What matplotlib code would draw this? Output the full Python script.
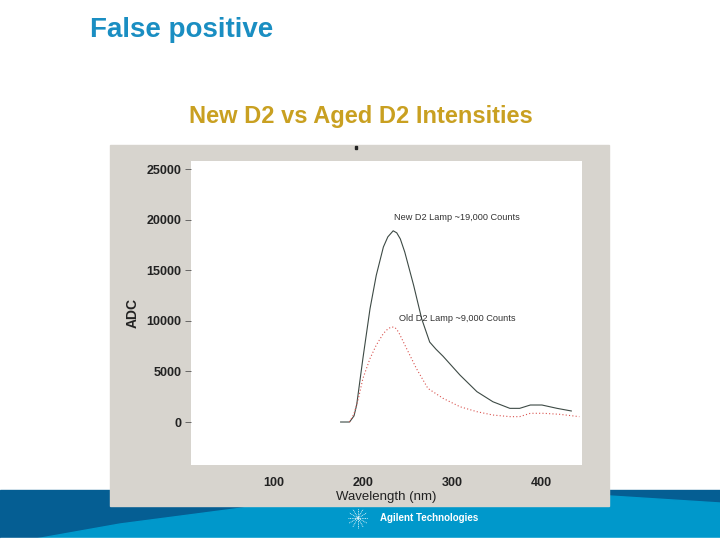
import matplotlib
matplotlib.use("Agg")
import matplotlib.pyplot as plt
from matplotlib.patches import Rectangle, Polygon
import numpy as np

# ---- data ----
new_nm = [175, 185, 190, 193, 200, 208, 215, 223, 228, 234, 238, 242, 247, 257, 266, 275, 282, 290, 309, 328, 346, 365, 376, 388, 401, 418, 434]
new_adc = [0, 0, 600, 1680, 6280, 11200, 14500, 17300, 18300, 18900, 18700, 18100, 16800, 13500, 10200, 7900, 7200, 6500, 4640, 3000, 2000, 1350, 1350, 1680, 1680, 1350, 1090]
old_nm = [185, 190, 195, 200, 208, 215, 223, 228, 232, 236, 240, 249, 260, 273, 290, 309, 328, 346, 365, 376, 388, 403, 421, 443]
old_adc = [0, 800, 2340, 4300, 6280, 7600, 8750, 9200, 9400, 9350, 8900, 7270, 5300, 3320, 2340, 1510, 1020, 690, 530, 530, 860, 860, 760, 530]
x_ticks = [100, 200, 300, 400]
y_ticks = [0, 5000, 10000, 15000, 20000, 25000]

W, H = 720, 540
fig = plt.figure(figsize=(7.2, 5.4), dpi=100)
fig.patch.set_facecolor("white")

def fx(px):
    return px / W

def fy(py):
    return 1 - py / H

# footer bands
dark = "#055E93"
light = "#0098CB"
fig.patches.append(Rectangle((0, 0), 1, fy(490), transform=fig.transFigure, color=dark, zorder=0))
pts = [(30, 540), (120, 524), (250, 507), (450, 499), (610, 496), (720, 503), (720, 540)]
fig.patches.append(Polygon([(fx(x), fy(y)) for x, y in pts], closed=True, transform=fig.transFigure, color=light, zorder=0))
fig.patches.append(Rectangle((0, 0), 1, fy(538), transform=fig.transFigure, color="white", zorder=0))

# gray panel
fig.patches.append(Rectangle((fx(110), fy(506)), fx(609) - fx(110), fy(145) - fy(506),
                             transform=fig.transFigure, color="#D7D4CE", zorder=1))
fig.patches.append(Rectangle((fx(355), fy(149)), fx(2), fy(146) - fy(149),
                             transform=fig.transFigure, color="#222222", zorder=2))

# slide title and chart title
fig.text(fx(90), fy(30), "False positive", color="#1A8EC2", fontsize=20, fontweight="bold",
         family="Liberation Sans", va="center", ha="left")
fig.text(fx(361), fy(116), "New D2 vs Aged D2 Intensities", color="#C9A021", fontsize=17,
         fontweight="bold", family="Liberation Sans", va="center", ha="center")

# logo
cx, cy = fx(358), fy(518)
for ang in np.linspace(0, np.pi, 6, endpoint=False):
    dx, dy = 0.014 * np.cos(ang), 0.014 * np.sin(ang) * W / H
    fig.lines.append(plt.Line2D([cx - dx, cx + dx], [cy - dy, cy + dy], transform=fig.transFigure,
                                color="white", lw=0.6, ls=(0, (1, 1)), zorder=3))
fig.text(fx(380), fy(518), "Agilent Technologies", color="white", fontsize=7, fontweight="bold",
         family="Liberation Sans", va="center", ha="left")

# axes
ax = fig.add_axes([fx(191), fy(465), fx(582) - fx(191), fy(161) - fy(465)])
ax.set_zorder(5)
ax.set_facecolor("white")
ax.plot(new_nm, new_adc, color="#3D4A45", lw=0.8)
ax.plot(old_nm, old_adc, color="#D9534F", lw=0.8, ls=(0, (1, 2)))
ax.set_xlim(7, 446)
ax.set_ylim(-4250, 25800)
ax.set_xticks(x_ticks)
ax.set_yticks(y_ticks)
for s in ax.spines.values():
    s.set_visible(False)
ax.tick_params(axis="x", length=0, pad=9)
ax.tick_params(axis="y", length=4, width=0.6, color="#555555", pad=3)
for lab in ax.get_xticklabels() + ax.get_yticklabels():
    lab.set_fontsize(9)
    lab.set_fontweight("bold")
    lab.set_family("Liberation Sans")
    lab.set_color("#222222")
ax.set_xlabel("Wavelength (nm)", fontsize=9.5, family="Liberation Sans", labelpad=1, color="#222222")
ax.set_ylabel("ADC", fontsize=10, fontweight="bold", family="Liberation Sans", labelpad=5, color="#222222")
ax.text(235, 20200, "New D2 Lamp ~19,000 Counts", fontsize=6.6, family="Liberation Sans", color="#333333", va="center")
ax.text(241, 10200, "Old D2 Lamp ~9,000 Counts", fontsize=6.6, family="Liberation Sans", color="#333333", va="center")

fig.savefig("out.png", dpi=100)
